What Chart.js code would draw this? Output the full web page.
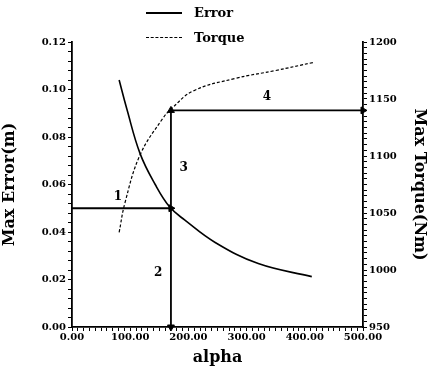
<!DOCTYPE html>
<html>
<head>
<meta charset="utf-8">
<script src="https://cdn.jsdelivr.net/npm/chart.js@4.4.0/dist/chart.umd.min.js"></script>
<style>
    body { margin: 0; background: #fff; }
    #wrap { position: relative; width: 429px; height: 367px; }
    #legend { position: absolute; left: 146px; top: 0px; font: bold 13px "DejaVu Serif", serif; color: #000; }
    .item { height: 25px; display: flex; align-items: center; }
    .swatch { width: 36px; margin-right: 12px; border-top: 2px solid #000; }
    .swatch.dash { border-top: 1.5px dashed #000; }
</style>
</head>
<body>
<div id="wrap">
    <canvas id="chart" width="429" height="367"></canvas>
    <div id="legend">
        <div class="item"><span class="swatch"></span>Error</div>
        <div class="item"><span class="swatch dash"></span>Torque</div>
    </div>
</div>
<script>
// Data
const errorAlpha = [81, 94, 117, 143, 168, 194, 246, 320, 412];
const errorValues = [0.104, 0.092, 0.073, 0.060, 0.0505, 0.045, 0.0356, 0.0267, 0.0212];

const torqueAlpha = [81, 91, 117, 156, 170, 208, 280, 350, 414];
const torqueValues = [1033, 1059, 1101, 1133, 1141, 1157, 1168, 1175, 1182];

// guide arrows: alpha where they meet, error level, torque level
const guideAlpha = [0, 170, 500];
const guideError = [0.05, 0];
const guideTorque = [1054.2, 1140];

// numbered step labels: [alpha, error]
const stepLabels = ['1', '2', '3', '4'];
const stepAlpha = [79, 148, 192, 335];
const stepError = [0.055, 0.023, 0.067, 0.097];

function toPoints(xs, ys) {
    const pts = [];
    for (let i = 0; i < xs.length; i++) {
        pts.push({ x: xs[i], y: ys[i] });
    }
    return pts;
}

const FONT = '"DejaVu Serif", serif';

// draws the numbers 1-4 next to the arrows
const stepLabelPlugin = {
    id: 'stepLabels',
    afterDatasetsDraw(chart) {
        const ctx = chart.ctx;
        const xs = chart.scales.x;
        const ys = chart.scales.y;
        ctx.save();
        ctx.font = 'bold 12px ' + FONT;
        ctx.fillStyle = '#000';
        ctx.textAlign = 'center';
        ctx.textBaseline = 'middle';
        for (let i = 0; i < stepLabels.length; i++) {
            ctx.fillText(stepLabels[i], xs.getPixelForValue(stepAlpha[i]), ys.getPixelForValue(stepError[i]));
        }
        ctx.restore();
    }
};

const arrowLine = {
    borderColor: '#000',
    borderWidth: 1.8,
    backgroundColor: '#000',
    pointBackgroundColor: '#000',
    pointBorderColor: '#000',
    pointStyle: 'triangle',
    pointBorderWidth: 1,
    tension: 0,
    clip: 10
};

new Chart(document.getElementById('chart'), {
    type: 'line',
    data: {
        datasets: [
            {
                label: 'Error',
                data: toPoints(errorAlpha, errorValues),
                yAxisID: 'y',
                borderColor: '#000',
                borderWidth: 1.6,
                pointRadius: 0,
                tension: 0.4
            },
            {
                label: 'Torque',
                data: toPoints(torqueAlpha, torqueValues),
                yAxisID: 'y2',
                borderColor: '#000',
                borderWidth: 1.2,
                borderDash: [3, 2],
                pointRadius: 0,
                tension: 0.4
            },
            // 1: from error axis to the curve
            Object.assign({}, arrowLine, {
                data: [{ x: guideAlpha[0], y: guideError[0] }, { x: guideAlpha[1], y: guideError[0] }],
                yAxisID: 'y',
                pointRadius: [0, 4],
                pointRotation: 90
            }),
            // 2: down to alpha axis
            Object.assign({}, arrowLine, {
                data: [{ x: guideAlpha[1], y: guideError[0] }, { x: guideAlpha[1], y: guideError[1] }],
                yAxisID: 'y',
                pointRadius: [0, 4],
                pointRotation: 180
            }),
            // 3: up to torque curve
            Object.assign({}, arrowLine, {
                data: [{ x: guideAlpha[1], y: guideTorque[0] }, { x: guideAlpha[1], y: guideTorque[1] }],
                yAxisID: 'y2',
                pointRadius: [0, 4],
                pointRotation: 0
            }),
            // 4: across to torque axis
            Object.assign({}, arrowLine, {
                data: [{ x: guideAlpha[1], y: guideTorque[1] }, { x: guideAlpha[2], y: guideTorque[1] }],
                yAxisID: 'y2',
                pointRadius: [0, 4],
                pointRotation: 90
            })
        ]
    },
    options: {
        responsive: false,
        animation: false,
        layout: { padding: { top: 42, left: 0, right: 0, bottom: 0 } },
        plugins: {
            legend: { display: false },
            tooltip: { enabled: false }
        },
        scales: {
            x: {
                type: 'linear',
                min: 0,
                max: 500,
                grid: { drawOnChartArea: false, color: '#000', tickLength: 4 },
                border: { color: '#000', width: 1.8 },
                ticks: {
                    stepSize: 10,
                    autoSkip: false,
                    maxRotation: 0,
                    padding: 0,
                    color: '#000',
                    font: { family: FONT, size: 10, weight: 'bold' },
                    callback: function(v) { return v % 100 === 0 ? v.toFixed(2) : ''; }
                },
                title: {
                    display: true,
                    text: 'alpha',
                    color: '#000',
                    padding: 0,
                    font: { family: FONT, size: 16, weight: 'bold' }
                },
                afterFit: function(scale) { scale.height = 40; }
            },
            y: {
                position: 'left',
                min: 0,
                max: 0.12,
                grid: { drawOnChartArea: false, color: '#000', tickLength: 4 },
                border: { color: '#000', width: 1.8 },
                ticks: {
                    stepSize: 0.004,
                    autoSkip: false,
                    padding: 2,
                    color: '#000',
                    font: { family: FONT, size: 10, weight: 'bold' },
                    callback: function(v) {
                        const k = v / 0.02;
                        return Math.abs(k - Math.round(k)) < 1e-6 ? v.toFixed(2) : '';
                    }
                },
                title: {
                    display: true,
                    text: 'Max Error(m)',
                    color: '#000',
                    padding: 0,
                    font: { family: FONT, size: 16, weight: 'bold' }
                },
                afterFit: function(scale) { scale.width = 72; }
            },
            y2: {
                position: 'right',
                min: 950,
                max: 1200,
                grid: { drawOnChartArea: false, color: '#000', tickLength: 4 },
                border: { color: '#000', width: 1.8 },
                ticks: {
                    stepSize: 5,
                    autoSkip: false,
                    padding: 2,
                    color: '#000',
                    font: { family: FONT, size: 10, weight: 'bold' },
                    callback: function(v) { return v % 50 === 0 ? String(v) : ''; }
                },
                title: {
                    display: true,
                    text: 'Max Torque(Nm)',
                    color: '#000',
                    padding: 0,
                    font: { family: FONT, size: 16, weight: 'bold' }
                },
                afterFit: function(scale) { scale.width = 66; }
            }
        }
    },
    plugins: [stepLabelPlugin]
});
</script>
</body>
</html>
